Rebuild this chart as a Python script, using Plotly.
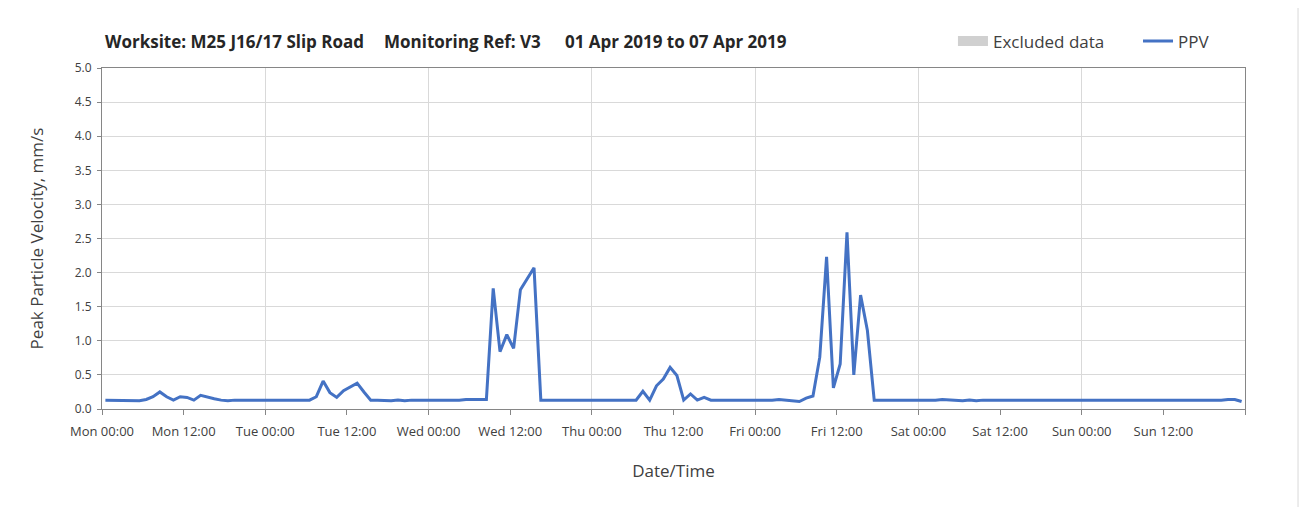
import plotly.graph_objects as go
import pandas as pd

# hourly PPV readings, Mon 01 Apr 2019 to Sun 07 Apr 2019 (mm/s)
mon = [0.13, 0.13, 0.13, 0.12, 0.13, 0.12, 0.14, 0.18, 0.25, 0.18, 0.13, 0.18,
       0.17, 0.13, 0.20, 0.17, 0.15, 0.13, 0.12, 0.13, 0.13, 0.12, 0.13, 0.13]
tue = [0.12, 0.13, 0.13, 0.12, 0.13, 0.13, 0.13, 0.18, 0.41, 0.24, 0.17, 0.27,
       0.33, 0.38, 0.25, 0.13, 0.13, 0.12, 0.12, 0.13, 0.12, 0.13, 0.13, 0.12]
wed = [0.13, 0.13, 0.12, 0.13, 0.13, 0.14, 0.14, 0.15, 0.14, 1.77, 0.84, 1.09,
       0.89, 1.75, 1.91, 2.07, 0.13, 0.13, 0.12, 0.12, 0.13, 0.12, 0.13, 0.13]
thu = [0.13, 0.13, 0.13, 0.13, 0.12, 0.12, 0.13, 0.26, 0.13, 0.34, 0.44, 0.61,
       0.49, 0.13, 0.22, 0.13, 0.17, 0.13, 0.13, 0.13, 0.12, 0.13, 0.12, 0.13]
fri = [0.12, 0.13, 0.13, 0.14, 0.13, 0.12, 0.11, 0.16, 0.19, 0.76, 2.23, 0.31,
       0.66, 2.59, 0.50, 1.67, 1.15, 0.13, 0.13, 0.13, 0.12, 0.13, 0.13, 0.13]
sat = [0.13, 0.13, 0.13, 0.14, 0.13, 0.12, 0.12, 0.13, 0.12, 0.13, 0.13, 0.12,
       0.13, 0.12, 0.13, 0.12, 0.13, 0.13, 0.12, 0.13, 0.12, 0.13, 0.13, 0.12]
sun = [0.13, 0.13, 0.12, 0.13, 0.13, 0.13, 0.12, 0.13, 0.12, 0.13, 0.12, 0.13,
       0.12, 0.13, 0.13, 0.12, 0.13, 0.13, 0.12, 0.13, 0.13, 0.14, 0.14, 0.11]
ppv = mon + tue + wed + thu + fri + sat + sun

times = pd.date_range("2019-04-01 00:30", periods=len(ppv), freq="h")

tick_times = pd.date_range("2019-04-01 00:00", "2019-04-08 00:00", freq="12h")
tick_labels = [t.strftime("%a %H:%M") for t in tick_times[:-1]] + [""]
grid_times = pd.date_range("2019-04-01 00:00", "2019-04-08 00:00", freq="24h")

y_ticks = [0.0, 0.5, 1.0, 1.5, 2.0, 2.5, 3.0, 3.5, 4.0, 4.5, 5.0]

title_parts = ["Worksite: M25 J16/17 Slip Road", "Monitoring Ref: V3",
               "01 Apr 2019 to 07 Apr 2019"]
title_x = [0.001, 0.245, 0.403]

font = "Open Sans, Noto Sans, sans-serif"

fig = go.Figure()
# no excluded periods this week, entry kept for the legend
fig.add_trace(go.Scatter(x=[times[0]], y=[None], mode="lines", name="Excluded data",
                         line=dict(color="#d0d0d0", width=10), legend="legend"))
fig.add_trace(go.Scatter(x=times, y=ppv, mode="lines", name="PPV",
                         line=dict(color="#4472c4", width=3), legend="legend2"))

annotations = [dict(text="<b>" + t + "</b>", xref="paper", yref="paper",
                    x=px, y=1.078, xanchor="left", yanchor="middle",
                    showarrow=False, font=dict(size=17, color="#262626"))
               for t, px in zip(title_parts, title_x)]

legend_style = dict(orientation="h", y=1.078, xanchor="left", yanchor="middle",
                    font=dict(size=17, color="#404040"), itemwidth=30,
                    bgcolor="rgba(0,0,0,0)")

fig.update_layout(
    width=1309, height=507,
    margin=dict(l=94, r=72, t=60, b=106),
    paper_bgcolor="white", plot_bgcolor="white",
    font=dict(family=font, color="#404040"),
    showlegend=True,
    legend=dict(x=0.7445, **legend_style),
    legend2=dict(x=0.9064, **legend_style),
    xaxis=dict(
        type="date",
        range=[tick_times[0], tick_times[-1]],
        tickvals=tick_times, ticktext=tick_labels,
        ticks="outside", ticklen=5, tickcolor="#868686",
        tickfont=dict(size=13, color="#404040"), ticklabelstandoff=5,
        showgrid=False, showline=True, linecolor="#868686", mirror=True,
        zeroline=False,
        minor=dict(tickvals=grid_times, showgrid=True, gridcolor="#d9d9d9",
                   gridwidth=1, ticks=""),
        title=dict(text="Date/Time", font=dict(size=17, color="#404040"), standoff=26),
    ),
    yaxis=dict(
        range=[0, 5], tickvals=y_ticks, tickformat=".1f",
        ticks="outside", ticklen=4, tickcolor="#868686",
        tickfont=dict(size=12, color="#404040"), ticklabelstandoff=3,
        showgrid=True, gridcolor="#d9d9d9", gridwidth=1,
        showline=True, linecolor="#868686", mirror=True, zeroline=False,
        title=dict(text="Peak Particle Velocity, mm/s",
                   font=dict(size=17, color="#404040"), standoff=26),
    ),
    annotations=annotations,
    shapes=[dict(type="path", xref="paper", yref="paper",
                 path="M -0.085 -0.4 L -0.085 1.185 L 1.0464 1.185 L 1.0464 -0.4",
                 line=dict(color="#d9d9d9", width=1), layer="below")],
)

fig.write_html("out.html")
